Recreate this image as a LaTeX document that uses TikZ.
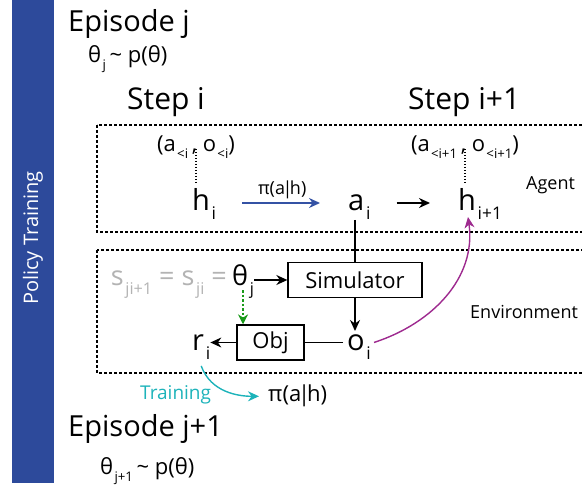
\documentclass[tikz,border=0pt]{standalone}
\usepackage{fontspec}
\setmainfont{Open Sans}
\usetikzlibrary{arrows.meta}

\definecolor{barblue}{HTML}{2D4A9B}
\definecolor{polblue}{HTML}{3452A4}
\definecolor{obspurple}{HTML}{9E2A8F}
\definecolor{objgreen}{HTML}{1A9A1A}
\definecolor{trainteal}{HTML}{1DB3BA}
\definecolor{sgray}{HTML}{B3B3B3}

% lowered index, as in the figure
\makeatletter
\newcommand{\lo}[1]{\hspace{0.06em}\raisebox{-0.3em}{\dimen@=\f@size pt\dimen@=0.6\dimen@\fontsize{\strip@pt\dimen@}{\strip@pt\dimen@}\selectfont #1}}
\makeatother
\newcommand{\given}{\kern-0.14em|\kern-0.14em}

\tikzset{
  big/.style={font=\fontsize{29}{31}\selectfont, inner sep=0pt},
  stp/.style={font=\fontsize{30}{32}\selectfont, inner sep=0pt},
  sym/.style={font=\fontsize{29}{31}\selectfont, inner sep=0pt},
  mid/.style={font=\fontsize{22}{24}\selectfont, inner sep=0pt},
  lbl/.style={font=\fontsize{18}{20}\selectfont, inner sep=0pt},
  blk/.style={draw, line width=1.3pt, font=\fontsize{22}{24}\selectfont, inner sep=0pt},
  region/.style={draw, line width=1.2pt, dash pattern=on 3pt off 2pt},
  hline/.style={line width=1.2pt, dash pattern=on 1.5pt off 1.5pt},
  arr/.style={-{Stealth[length=11pt,width=10pt]}, line width=1.4pt},
  gap/.style={shorten <=26pt, shorten >=28pt},
}

\begin{document}
\begin{tikzpicture}[x=1pt,y=-1pt]
\clip (0,0) rectangle (582,489);

% Side bar
\fill[barblue] (12,0) rectangle (54,483);
\node[rotate=90, text=white, font=\fontsize{20}{22}\selectfont] (side) at (33,238) {Policy Training};

% Episode j
\node[big, anchor=base west] (epj) at (68,32) {Episode j};
\node[mid, anchor=base west] (thjp) at (88,63) {θ\lo{j}\,\textasciitilde\ p(θ)};
\node[stp, anchor=base west] (stepi) at (127,110) {Step i};
\node[stp, anchor=base west] (stepn) at (408,110) {Step i+1};

% Agent and environment regions
\draw[region] (97,125) rectangle (600,232);
\draw[region] (97,250) rectangle (600,373);
\node[lbl, anchor=base west] (agent) at (526,190) {Agent};
\node[lbl, anchor=base west] (env) at (470,319) {Environment};

% Agent
\node[mid, anchor=base] (hhi) at (196,152) {(a\lo{<i}\,, o\lo{<i})};
\node[mid, anchor=base] (hhn) at (465,152) {(a\lo{<i+1}\,, o\lo{<i+1})};
\node[sym, anchor=base west] (hi) at (192,211) {h\lo{i}};
\node[sym, anchor=base west] (ai) at (348,211) {a\lo{i}};
\node[sym, anchor=base west] (hn) at (458,211) {h\lo{i+1}};
\draw[hline] ([yshift=3pt]hhi.base) -- ([yshift=6pt]hhi.base |- hi.north);
\draw[hline] ([yshift=3pt]hhn.base) -- ([yshift=6pt]hhn.base |- hn.north);
\draw[arr, polblue, gap] ([yshift=8pt]hi.base east) -- node[above=3pt, font=\fontsize{18}{20}\selectfont, text=black, inner sep=0pt] {π(a\given h)} ([yshift=8pt]ai.base west);
\draw[arr, gap] ([yshift=8pt]ai.base east) -- ([yshift=8pt]hn.base west);

% Environment
\node[blk, minimum width=134pt, minimum height=35pt] (sim) at (355,280) {Simulator};
\node[blk, minimum width=67pt, minimum height=35pt] (obj) at (270.5,342.5) {Obj};
\node[font=\fontsize{27}{29}\selectfont, inner sep=0pt, anchor=base west] (thj) at (232,286) {θ\lo{j}};
\node[font=\fontsize{27}{29}\selectfont, inner sep=0pt, text=sgray, anchor=base east] (sji) at ([xshift=-5pt]thj.base west) {s\lo{ji+1} = s\lo{ji} =};
\node[sym, anchor=base west] (oi) at (347,351) {o\lo{i}};
\node[sym, anchor=base west] (ri) at (192,351) {r\lo{i}};
\draw[line width=1.4pt] (sim.north |- ai.south) -- (sim.north);
\draw[arr] (thj.east |- sim.west) -- (sim.west);
\draw[arr] (sim.south) -- ([yshift=4pt]sim.south |- oi.north);
\draw[line width=1.4pt, shorten <=4pt] (oi.west |- obj.east) -- (obj.east);
\draw[arr] (obj.west) -- (obj.west -| ri.east);
\draw[-{Stealth[length=10pt,width=10pt]}, objgreen, line width=1.3pt, dash pattern=on 2.5pt off 2pt] ([yshift=8pt]thj.south) -- (thj.south |- obj.north);
\draw[-{Stealth[length=11pt,width=10pt]}, obspurple, line width=1.4pt] ([xshift=3pt,yshift=5pt]oi.east) to[out=18, in=-82] ([xshift=10pt,yshift=-6pt]hn.base west);

% Training
\node[mid, anchor=base west] (pinew) at (268,402) {π(a\given h)};
\draw[-{Stealth[length=11pt,width=10pt]}, trainteal, line width=1.4pt, shorten >=9pt] ([yshift=-6pt]ri.south) to[out=-70, in=180] (pinew.west);
\node[font=\fontsize{19}{21}\selectfont, text=trainteal, inner sep=0pt, anchor=base west] (train) at (140,400) {Training};

% Episode j+1
\node[big, anchor=base west] (epn) at (68,437) {Episode j+1};
\node[mid, anchor=base west] (thnp) at (100,475) {θ\lo{j+1}\,\textasciitilde\ p(θ)};

\end{tikzpicture}
\end{document}
